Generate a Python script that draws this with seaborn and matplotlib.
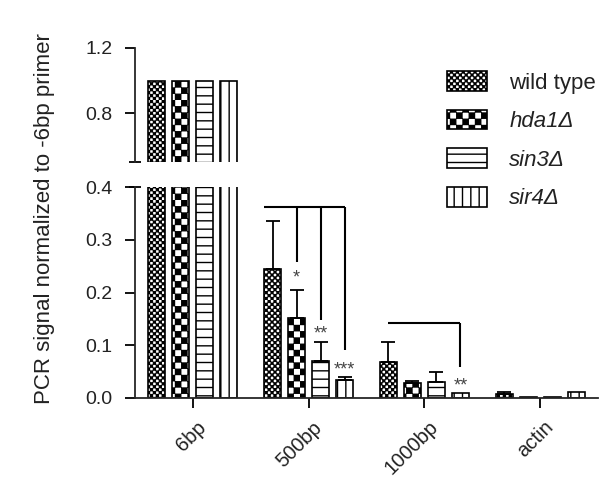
import warnings
warnings.filterwarnings('ignore')
import numpy as np
import pandas as pd
import matplotlib
matplotlib.use('Agg')
import matplotlib.pyplot as plt
import matplotlib.hatch as mhatch
import matplotlib.patches as mpatches
import matplotlib.transforms as mtransforms
from matplotlib.path import Path
import seaborn as sns

# ---------------- data ----------------
categories = ['6bp', '500bp', '1000bp', 'actin']
genotypes = ['wild type', 'hda1Δ', 'sin3Δ', 'sir4Δ']
wild_type = [1.0, 0.245, 0.069, 0.007]
hda1 = [1.0, 0.152, 0.029, 0.002]
sin3 = [1.0, 0.070, 0.031, 0.002]
sir4 = [1.0, 0.034, 0.009, 0.011]
wild_type_err = [0.0, 0.091, 0.038, 0.005]
hda1_err = [0.0, 0.053, 0.003, 0.0]
sin3_err = [0.0, 0.036, 0.019, 0.0]
sir4_err = [0.0, 0.006, 0.0, 0.0]
hatches = ['c', 'C', '--', '||']

# significance brackets: group index, bracket height, [(bar, drop end)]
bracket_groups = [1, 2]
bracket_heights = [0.362, 0.142]
bracket_drops = [[(1, 0.258), (2, 0.148), (3, 0.091)], [(3, 0.059)]]
star_group = [1, 1, 1, 2]
star_bar = [1, 2, 3, 3]
star_text = ['*', '**', '***', '**']
star_y = [0.227, 0.121, 0.054, 0.023]


# ---------------- custom checkerboard hatch ----------------
class CheckerHatch(mhatch.HatchPatternBase):
    def __init__(self, hatch, density):
        n = 0
        if 'c' in hatch:
            n = 34
        if 'C' in hatch:
            n = 16
        self.n = n
        self.num_vertices = (n * n // 2) * 5

    def set_vertices_and_codes(self, vertices, codes):
        n = self.n
        s = 1.0 / n
        inset = 0.005
        k = 0
        for i in range(n):
            for j in range(n):
                if (i + j) % 2 == 0:
                    x0, y0 = i * s + inset, j * s + inset
                    x1, y1 = (i + 1) * s - inset, (j + 1) * s - inset
                    vertices[k:k + 5] = [(x0, y0), (x1, y0), (x1, y1), (x0, y1), (x0, y0)]
                    codes[k:k + 5] = [Path.MOVETO, Path.LINETO, Path.LINETO,
                                      Path.LINETO, Path.CLOSEPOLY]
                    k += 5


mhatch._hatch_types.append(CheckerHatch)

rows = []
for g, vals in zip(genotypes, [wild_type, hda1, sin3, sir4]):
    for c, v in zip(categories, vals):
        rows.append((c, g, v))
df = pd.DataFrame(rows, columns=['region', 'genotype', 'signal'])
errs = [wild_type_err, hda1_err, sin3_err, sir4_err]

sns.set_style('ticks')
plt.rcParams['font.family'] = ['Liberation Sans', 'DejaVu Sans']
plt.rcParams['hatch.linewidth'] = 1.0
plt.rcParams['hatch.color'] = 'black'

W, H = 601, 479
fig = plt.figure(figsize=(W / 100, H / 100), dpi=100)
left = 135 / W
width = 463 / W
ax = fig.add_axes([left, (H - 398) / H, width, 211 / H])
ax_top = fig.add_axes([left, (H - 161.75) / H, width, 113.75 / H])

ink = '#222222'
for a in (ax, ax_top):
    sns.barplot(data=df, x='region', y='signal', hue='genotype', order=categories,
                hue_order=genotypes, palette=['white'] * 4, saturation=1,
                edgecolor='black', linewidth=1.2, width=0.83, gap=0.3,
                errorbar=None, legend=False, ax=a)
    for cont, h in zip(a.containers, hatches):
        for p in cont:
            p.set_hatch(h)
    a.set_xlim(-0.5, 3.5)
    a.set_xlabel('')
    a.set_ylabel('')
    for s in ['top', 'right']:
        a.spines[s].set_visible(False)
    a.spines['left'].set_linewidth(1.3)
    a.spines['bottom'].set_linewidth(1.3)
    a.tick_params(axis='both', direction='out', length=7, width=1.3,
                  labelsize=14, colors='black', labelcolor=ink)
    a.tick_params(axis='y', pad=9)

# bottom axis
ax.set_ylim(0, 0.4)
ax.set_yticks([0.0, 0.1, 0.2, 0.3, 0.4])
ax.set_yticklabels(['0.0', '0.1', '0.2', '0.3', '0.4'])
ax.set_xticks(range(len(categories)))
ax.set_xticklabels(categories, rotation=45, ha='right', rotation_mode='anchor',
                   fontsize=14.5)
shift = mtransforms.ScaledTranslation(4 / 100, -5 / 100, fig.dpi_scale_trans)
for lab in ax.get_xticklabels():
    lab.set_transform(lab.get_transform() + shift)

# error bars (upper only)
for cont, e in zip(ax.containers, errs):
    xs = [p.get_x() + p.get_width() / 2 for p in cont]
    ys = [p.get_height() for p in cont]
    for x, y, ee in zip(xs, ys, e):
        if ee > 0:
            ax.errorbar([x], [y], yerr=[[0], [ee]], fmt='none', ecolor='black',
                        elinewidth=1.3, capsize=5, capthick=1.3, zorder=5)


def bar_center(g, b):
    p = ax.containers[b].patches[g]
    return p.get_x() + p.get_width() / 2


for g, hgt, drops in zip(bracket_groups, bracket_heights, bracket_drops):
    p0 = ax.containers[0].patches[g]
    x_start = p0.get_x() if g == 1 else bar_center(g, 0)
    x_end = bar_center(g, drops[-1][0])
    ax.plot([x_start, x_end], [hgt, hgt], color='black', lw=1.5,
            solid_capstyle='butt', zorder=6)
    for b, yend in drops:
        xb = bar_center(g, b)
        ax.plot([xb, xb], [hgt, yend], color='black', lw=1.5,
                solid_capstyle='butt', zorder=6)

for g, b, t, y in zip(star_group, star_bar, star_text, star_y):
    ax.text(bar_center(g, b), y, t, ha='center', va='center', fontsize=13,
            color='#444444')

# top axis
ax_top.set_ylim(0.5, 1.2)
ax_top.set_yticks([0.8, 1.2])
ax_top.set_yticklabels(['0.8', '1.2'])
ax_top.spines['bottom'].set_visible(False)
ax_top.set_xticks([])
ax_top.patch.set_alpha(0)

# break marks
ax_top.plot([0], [0], marker='_', ms=9, mew=1.3, color='black',
            transform=ax_top.transAxes, clip_on=False)
ax.plot([0], [1], marker='_', ms=9, mew=1.3, color='black',
        transform=ax.transAxes, clip_on=False)

fig.text(45 / W, 1 - 219 / H, 'PCR signal normalized to -6bp primer', rotation=90,
         ha='center', va='center', fontsize=16, color=ink)

# legend
handles = [mpatches.Patch(facecolor='white', edgecolor='black', linewidth=1.2, hatch=h)
           for h in hatches]
leg = fig.legend(handles, genotypes, loc='upper left',
                 bbox_to_anchor=(447 / W, 1 - 71 / H), frameon=False,
                 fontsize=16, handlelength=1.8, handleheight=1.0,
                 handletextpad=1.0, labelspacing=0.72, borderpad=0,
                 borderaxespad=0)
for i, t in enumerate(leg.get_texts()):
    t.set_color(ink)
    if i > 0:
        t.set_fontstyle('italic')

fig.savefig('out.png', dpi=100)
